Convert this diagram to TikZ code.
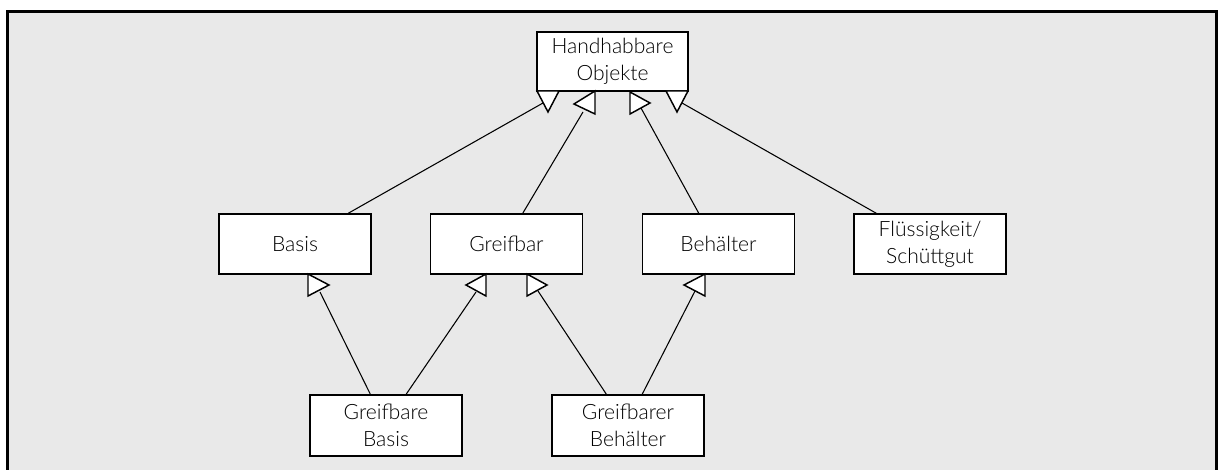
\documentclass[tikz,border=0pt]{standalone}
\usepackage{fontspec}
\setmainfont{Lato}[UprightFont=* Light]
\usetikzlibrary{calc}
\definecolor{panel}{RGB}{233,233,233}
\tikzset{
  box/.style={draw=black, fill=white, line width=1.1pt, minimum width=114pt,
    minimum height=45pt, inner sep=2pt, align=center,
    font=\fontsize{15.8}{20}\selectfont},
  link/.style={draw=black, line width=0.8pt},
  tri/.style={draw=black, fill=white, line width=1.1pt, line join=miter}
}
\begin{document}
\begin{tikzpicture}[x=0.75pt, y=-0.75pt]
  \useasboundingbox (0,0) rectangle (1218,470);
  % grey panel with its frame open at the bottom
  \fill[panel] (7.5,11.5) rectangle (1216.5,472);
  \draw[line width=2.3pt, line join=miter] (7.5,472) -- (7.5,11.5) -- (1216.5,11.5) -- (1216.5,472);

  % classes
  \node[box, minimum width=113pt, minimum height=44pt] (top) at (612.5,61.5) {Handhabbare\\Objekte};
  \node[box] (basis) at (295,244) {Basis};
  \node[box] (greifbar) at (506.5,244) {Greifbar};
  \node[box] (behaelter) at (718.5,244) {Behälter};
  \node[box] (fluessig) at (930,244) {Flüssigkeit/\\Schüttgut};
  \node[box, minimum height=46pt] (gbasis) at (386,425.5) {Greifbare\\Basis};
  \node[box, minimum height=46pt] (gbehaelter) at (628,425.5) {Greifbarer\\Behälter};

  % ends of the generalization lines at the triangles
  \coordinate (e1) at (543,103);
  \coordinate (e2) at (583,112);
  \coordinate (e3) at (641,108);
  \coordinate (e4) at (682,103);
  \coordinate (e5) at (320,292);
  \coordinate (e6) at (476,292);
  \coordinate (e7) at (538,291);
  \coordinate (e8) at (695,291);

  % generalization lines
  \draw[link] ($(basis.north west)+(130,0)$) -- (e1);
  \draw[link] ($(greifbar.north west)+(93,0)$) -- (e2);
  \draw[link] ($(behaelter.north west)+(57,0)$) -- (e3);
  \draw[link] ($(fluessig.north west)+(23,0)$) -- (e4);
  \draw[link] ($(gbasis.north west)+(61,0)$) -- (e5);
  \draw[link] ($(gbasis.north west)+(97,0)$) -- (e6);
  \draw[link] ($(gbehaelter.north west)+(55,0)$) -- (e7);
  \draw[link] ($(gbehaelter.north west)+(91,0)$) -- (e8);

  % hollow triangle heads below the parent classes
  \draw[tri] (537,91) -- (559,91) -- (548,112) -- cycle;
  \draw[tri] (595,91) -- (595,114) -- (574,104) -- cycle;
  \draw[tri] (630,92) -- (630,114) -- (650,103) -- cycle;
  \draw[tri] (666,91) -- (688,91) -- (677,112) -- cycle;
  \draw[tri] (308,274) -- (308,296) -- (329,285) -- cycle;
  \draw[tri] (486,274) -- (486,296) -- (466,285) -- cycle;
  \draw[tri] (527,274) -- (527,296) -- (547,285) -- cycle;
  \draw[tri] (705,274) -- (705,296) -- (684,285) -- cycle;
\end{tikzpicture}
\end{document}
